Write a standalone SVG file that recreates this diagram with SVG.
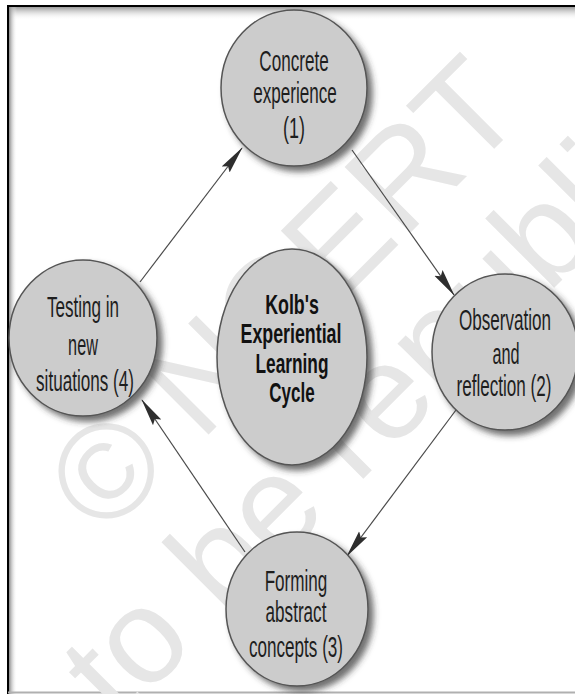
<svg xmlns="http://www.w3.org/2000/svg" width="575" height="694" viewBox="0 0 575 694">
<style>
.node ellipse{fill:#cccccc;stroke:#555;stroke-width:1.5;filter:url(#sh)}
.lbl{font-family:"Liberation Sans",Arial,sans-serif;font-size:29px;fill:#1e1e1e;text-anchor:middle}
.bold{font-weight:bold;font-size:27px;fill:#111}
.conn line{stroke:#4a4a4a;stroke-width:1.2;marker-end:url(#ah)}
.wm{font-family:"Liberation Sans",Arial,sans-serif;font-size:135px;fill:#e6e6e6}
</style>
<defs>
<filter id="sh" x="-20%" y="-20%" width="150%" height="150%">
<feDropShadow dx="5" dy="5" stdDeviation="3" flood-color="#333" flood-opacity="0.7"/>
</filter>
<marker id="ah" markerUnits="userSpaceOnUse" markerWidth="30" markerHeight="14" refX="27" refY="7" orient="auto">
<path d="M0,2 L28,7 L0,12 L4,7 Z" fill="#2e2e2e"/>
</marker>
<linearGradient id="gt" x1="0" y1="0" x2="0" y2="1">
<stop offset="0" stop-color="#9a9a9a"/><stop offset="1" stop-color="#fff" stop-opacity="0"/>
</linearGradient>
<linearGradient id="gl" x1="0" y1="0" x2="1" y2="0">
<stop offset="0" stop-color="#8a8a8a"/><stop offset="1" stop-color="#fff" stop-opacity="0"/>
</linearGradient>
</defs>
<rect x="0" y="0" width="575" height="694" fill="#fff"/>
<g id="frame">
<rect x="9" y="7" width="566" height="13" fill="url(#gt)"/>
<rect x="9" y="7" width="8" height="687" fill="url(#gl)"/>
<line x1="7" y1="6" x2="575" y2="6" stroke="#000" stroke-width="2"/>
<line x1="8" y1="5" x2="8" y2="694" stroke="#000" stroke-width="2"/>
<line x1="8" y1="692.5" x2="575" y2="692.5" stroke="#b0b0b0" stroke-width="2"/>
</g>
<g id="watermark">
<text class="wm" x="104" y="539" transform="rotate(-45 104 539)">© NCERT</text>
<text class="wm" x="118" y="724" transform="rotate(-45 118 724)">to be republished</text>
</g>
<g id="connectors" class="conn">
<line x1="140" y1="282" x2="242" y2="148"/>
<line x1="352" y1="150" x2="454" y2="295"/>
<line x1="456" y1="410" x2="347" y2="556"/>
<line x1="245" y1="552" x2="142" y2="400"/>
</g>
<g id="n1" class="node">
<ellipse cx="294" cy="88" rx="73" ry="78"/>
<text class="lbl" transform="translate(294 71) scale(0.59 1)">Concrete</text>
<text class="lbl" transform="translate(295 103) scale(0.59 1)">experience</text>
<text class="lbl" transform="translate(294 138) scale(0.62 1)">(1)</text>
</g>
<g id="n2" class="node">
<ellipse cx="505" cy="352" rx="73" ry="78"/>
<text class="lbl" transform="translate(505 330) scale(0.59 1)">Observation</text>
<text class="lbl" transform="translate(506 364) scale(0.56 1)">and</text>
<text class="lbl" transform="translate(504 396) scale(0.59 1)">reflection (2)</text>
</g>
<g id="n3" class="node">
<ellipse cx="297" cy="609" rx="71" ry="77"/>
<text class="lbl" transform="translate(296 591) scale(0.59 1)">Forming</text>
<text class="lbl" transform="translate(296 622) scale(0.59 1)">abstract</text>
<text class="lbl" transform="translate(296 657) scale(0.59 1)">concepts (3)</text>
</g>
<g id="n4" class="node">
<ellipse cx="83" cy="338" rx="74" ry="78"/>
<text class="lbl" transform="translate(83 317) scale(0.59 1)">Testing in</text>
<text class="lbl" transform="translate(83 355) scale(0.56 1)">new</text>
<text class="lbl" transform="translate(85 391) scale(0.59 1)">situations (4)</text>
</g>
<g id="center" class="node">
<ellipse cx="292" cy="357" rx="75" ry="108"/>
<text class="lbl bold" transform="translate(292 314) scale(0.66 1)">Kolb's</text>
<text class="lbl bold" transform="translate(291 343) scale(0.66 1)">Experiential</text>
<text class="lbl bold" transform="translate(292 373) scale(0.64 1)">Learning</text>
<text class="lbl bold" transform="translate(292 402) scale(0.63 1)">Cycle</text>
</g>
</svg>
